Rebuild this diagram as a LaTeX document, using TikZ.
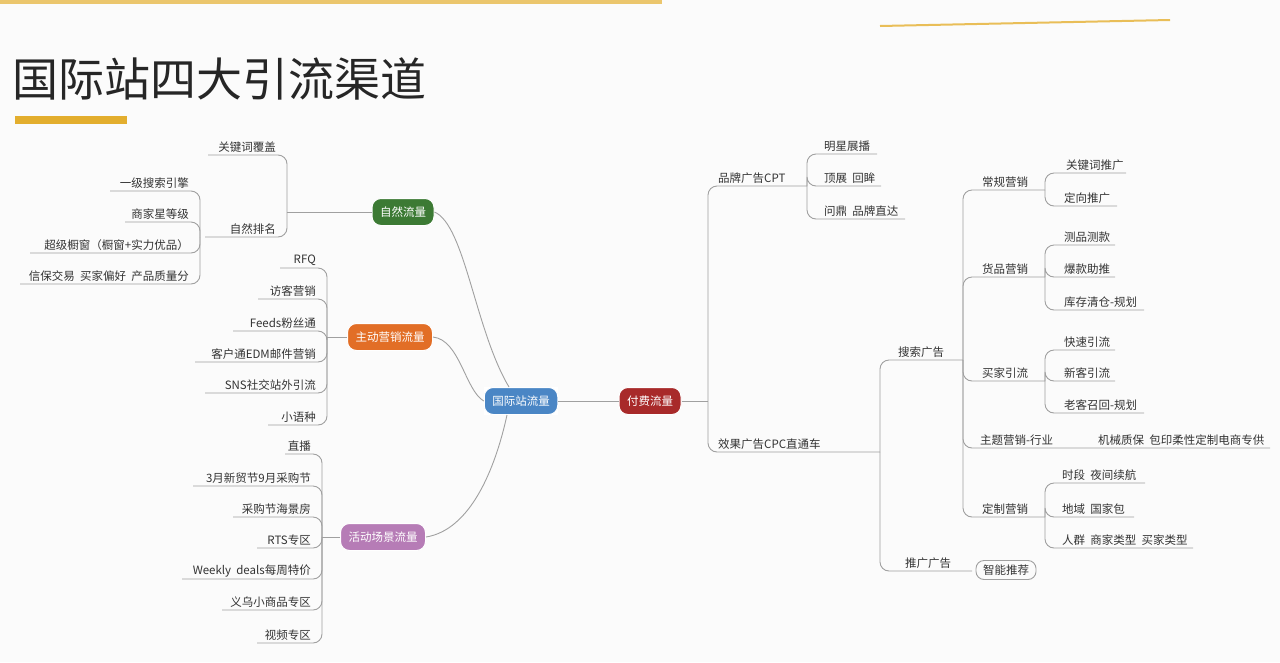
\documentclass[tikz,border=0pt]{standalone}
\usepackage{fontspec}
\setmainfont{Noto Sans CJK SC}
\newfontfamily\cjk{Noto Sans CJK SC}
\definecolor{lnc}{HTML}{A0A0A0}
\definecolor{txc}{HTML}{333333}
\definecolor{gold}{HTML}{E3AE2E}
\tikzset{
 br/.style={draw=lnc,line width=0.9pt},
 leaf/.style={inner sep=1pt,text=txc,font=\fontsize{11.5}{12}\selectfont},
 hub/.style={rounded corners=9pt,minimum height=27pt,inner xsep=8pt,text=white,font=\fontsize{11.5}{12}\selectfont,draw=white,line width=1pt}
}
\newcommand\Lleaf[6]{%
 \coordinate (#1) at (#2,#5);
 \draw[br,rounded corners=9pt] (#1) -| (#3,#4);
 \node[leaf,anchor=south east] (#1t) at ({#3-10},{#5-1}) {#6};}
\newcommand\Rleaf[7]{%
 \coordinate (#1) at (#5,#4);
 \draw[br,rounded corners=9pt] (#2,#3) |- (#1);
 \node[leaf,anchor=south west] (#1t) at ({#2+#6},{#4-1}) {#7};}
\begin{document}
\begin{tikzpicture}[x=1pt,y=-1pt]
\useasboundingbox (0,0) rectangle (1280,662);
\fill[white!97!gray] (0,0) rectangle (1280,662);
\fill[gold!70!white] (0,0) rectangle (662,4);
\draw[gold!80!white,line width=2pt] (880,26) -- (1170,20);
\node[anchor=west,inner sep=0pt,text=black!85,font=\fontsize{46}{48}\selectfont] (title) at (12,79) {国际站四大引流渠道};
\fill[gold] (15,116) rectangle (127,124);
% hubs
\node[hub,fill=blue!45!cyan!60!black!90!white] (c) at (521,401) {国际站流量};
\node[hub,fill={rgb,255:red,168;green,42;blue,42}] (pf) at (650,401) {付费流量};
\node[hub,fill={rgb,255:red,60;green,122;blue,52}] (zr) at (403,212) {自然流量};
\node[hub,fill={rgb,255:red,226;green,110;blue,38}] (zd) at (390,337) {主动营销流量};
\node[hub,fill={rgb,255:red,182;green,124;blue,182}] (hd) at (383,537) {活动场景流量};
\fill[white] (c.south west) rectangle (c.north east);
\node[hub,fill={rgb,255:red,74;green,134;blue,197}] (c) at (521,401) {国际站流量};
% center connectors
\draw[br] (c.east) -- (pf.west);
\draw[br] (zr.east) .. controls (465,225) and (475,330) .. ([xshift=-12pt]c.north);
\draw[br] (zd.east) .. controls (460,340) and (465,390) .. (c.west);
\draw[br] (hd.east) .. controls (470,530) and (495,470) .. ([xshift=-14pt]c.south);
% natural
\coordinate (j1) at (287,212);
\draw[br] (zr.west) -- (j1);
\Lleaf{k1}{208}{287}{212}{155}{关键词覆盖}
\Lleaf{k2}{205}{287}{212}{237}{自然排名}
\Lleaf{n1}{110}{200}{237}{191}{一级搜索引擎}
\Lleaf{n2}{125}{200}{237}{222}{商家星等级}
\Lleaf{n3}{30}{200}{237}{253}{超级橱窗（橱窗+实力优品）}
\Lleaf{n4}{20}{200}{237}{284}{信保交易\ \ 买家偏好\ \ 产品质量分}
% active
\coordinate (j2) at (327,337);
\draw[br] (zd.west) -- (j2);
\Lleaf{a1}{280}{327}{337}{268}{RFQ}
\Lleaf{a2}{258}{327}{337}{299}{访客营销}
\Lleaf{a3}{233}{327}{337}{331}{Feeds粉丝通}
\Lleaf{a4}{195}{327}{337}{362}{客户通EDM邮件营销}
\Lleaf{a5}{205}{327}{337}{393}{SNS社交站外引流}
\Lleaf{a6}{268}{327}{337}{425}{小语种}
% activity
\coordinate (j3) at (322,537);
\draw[br] (hd.west) -- (j3);
\Lleaf{h1}{285}{322}{537}{454}{直播}
\Lleaf{h2}{193}{322}{537}{486}{3月新贸节9月采购节}
\Lleaf{h3}{233}{322}{537}{517}{采购节海景房}
\Lleaf{h4}{257}{322}{537}{548}{RTS专区}
\Lleaf{h5}{182}{322}{537}{579}{Weekly\ \ deals每周特价}
\Lleaf{h6}{222}{322}{537}{610}{义乌小商品专区}
\Lleaf{h7}{257}{322}{537}{643}{视频专区}
% paid
\coordinate (p0) at (708,401);
\draw[br] (pf.east) -- (p0);
\Rleaf{b0}{708}{401}{186}{807}{9}{品牌广告CPT}
\Rleaf{e0}{708}{401}{452}{880}{9}{效果广告CPC直通车}
\Rleaf{b1}{807}{186}{154}{877}{16}{明星展播}
\Rleaf{b2}{807}{186}{186}{881}{16}{顶展\ \ 回眸}
\Rleaf{b3}{807}{186}{219}{905}{16}{问鼎\ \ 品牌直达}
\Rleaf{s0}{880}{452}{360}{963}{17}{搜索广告}
\Rleaf{t0}{880}{452}{571}{972}{24}{推广广告}
\node[draw=lnc,line width=0.9pt,rounded corners=8pt,minimum height=19pt,inner xsep=7pt,text=txc,font=\fontsize{11.5}{12}\selectfont] (zn) at (1006,570) {智能推荐};
\Rleaf{g1}{963}{360}{190}{1045}{18}{常规营销}
\Rleaf{g2}{963}{360}{277}{1045}{18}{货品营销}
\Rleaf{g3}{963}{360}{381}{1045}{18}{买家引流}
\Rleaf{g4}{963}{360}{448}{1270}{16}{主题营销-行业}
\node[leaf,anchor=south west] (g4b) at (1097,447) {机械质保\ \ 包印柔性定制电商专供};
\Rleaf{g5}{963}{360}{517}{1045}{18}{定制营销}
\Rleaf{r1}{1045}{190}{173}{1126}{20}{关键词推广}
\Rleaf{r2}{1045}{190}{206}{1117}{18}{定向推广}
\Rleaf{r3}{1045}{277}{245}{1115}{18}{测品测款}
\Rleaf{r4}{1045}{277}{277}{1115}{18}{爆款助推}
\Rleaf{r5}{1045}{277}{310}{1144}{18}{库存清仓-规划}
\Rleaf{r6}{1045}{381}{350}{1115}{18}{快速引流}
\Rleaf{r7}{1045}{381}{381}{1115}{18}{新客引流}
\Rleaf{r8}{1045}{381}{413}{1144}{18}{老客召回-规划}
\Rleaf{r9}{1045}{517}{483}{1145}{16}{时段\ \ 夜间续航}
\Rleaf{r10}{1045}{517}{517}{1134}{16}{地域\ \ 国家包}
\Rleaf{r11}{1045}{517}{548}{1193}{16}{人群\ \ 商家类型\ \ 买家类型}
\end{tikzpicture}
\end{document}
